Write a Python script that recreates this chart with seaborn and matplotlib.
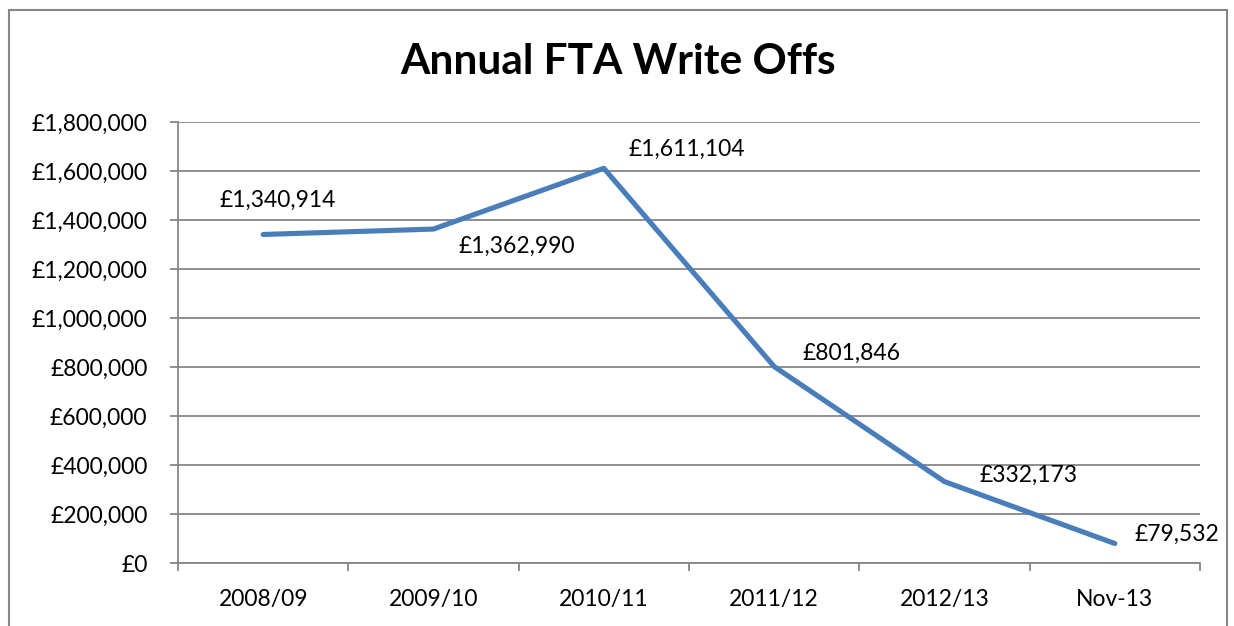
import matplotlib
matplotlib.use("Agg")
import matplotlib.pyplot as plt
import matplotlib.ticker as mticker
from matplotlib.patches import Rectangle
import seaborn as sns
import pandas as pd

periods = ["2008/09", "2009/10", "2010/11", "2011/12", "2012/13", "Nov-13"]
write_offs = [1340914, 1362990, 1611104, 801846, 332173, 79532]
# label offsets from each point, in pixels (dx, dy)
label_offsets = [(15, 34), (83, -17), (83, 19), (77, 13), (84, 6), (62, 9)]

sns.set_theme(style="white")
plt.rcParams["font.family"] = ["Lato", "DejaVu Sans"]

df = pd.DataFrame({"period": periods, "value": write_offs})

fig = plt.figure(figsize=(12.34, 6.26), dpi=100)
ax = fig.add_axes([178 / 1234, 63 / 626, 1022 / 1234, 441 / 626])

grid_col = "#868686"
line_col = "#4A7EBB"
fs = 16.5

sns.lineplot(data=df, x="period", y="value", ax=ax, color=line_col,
             linewidth=3.7, sort=False)

ax.set_xlim(-0.5, len(periods) - 0.5)
ax.set_ylim(0, 1800000)
ax.yaxis.set_major_locator(mticker.MultipleLocator(200000))
ax.yaxis.set_major_formatter(mticker.FuncFormatter(lambda v, p: f"£{v:,.0f}"))
ax.yaxis.grid(True, color=grid_col, linewidth=1.3)
ax.set_axisbelow(True)

ax.set_xticks(range(len(periods)))
ax.set_xticklabels(periods)
ax.set_xticks([i - 0.5 for i in range(len(periods) + 1)], minor=True)
ax.tick_params(axis="x", which="major", length=0, pad=19, labelsize=fs, colors="black")
ax.tick_params(axis="x", which="minor", length=6, width=1.3, color=grid_col, bottom=True)
ax.tick_params(axis="y", which="major", length=6, width=1.3, color=grid_col, left=True,
               labelsize=fs, pad=16, labelcolor="black")
ax.set_xlabel("")
ax.set_ylabel("")

for s in ["top", "right"]:
    ax.spines[s].set_visible(False)
for s in ["left", "bottom"]:
    ax.spines[s].set_color(grid_col)
    ax.spines[s].set_linewidth(1.3)

for i, (v, (dx, dy)) in enumerate(zip(write_offs, label_offsets)):
    ax.annotate(f"£{v:,.0f}", xy=(i, v), xytext=(dx, dy), textcoords="offset pixels",
                ha="center", va="center", fontsize=fs, color="black")

fig.text(618 / 1234, 1 - 62 / 626, "Annual FTA Write Offs", ha="center", va="center",
         fontsize=30.5, fontweight="bold", color="black")

fig.patches.append(Rectangle((9 / 1234, -0.05), 1218 / 1234, 1 - 10 / 626 + 0.05,
                             transform=fig.transFigure, fill=False,
                             edgecolor="#868686", linewidth=1.5))

fig.savefig("out.png", dpi=100, facecolor="white")
